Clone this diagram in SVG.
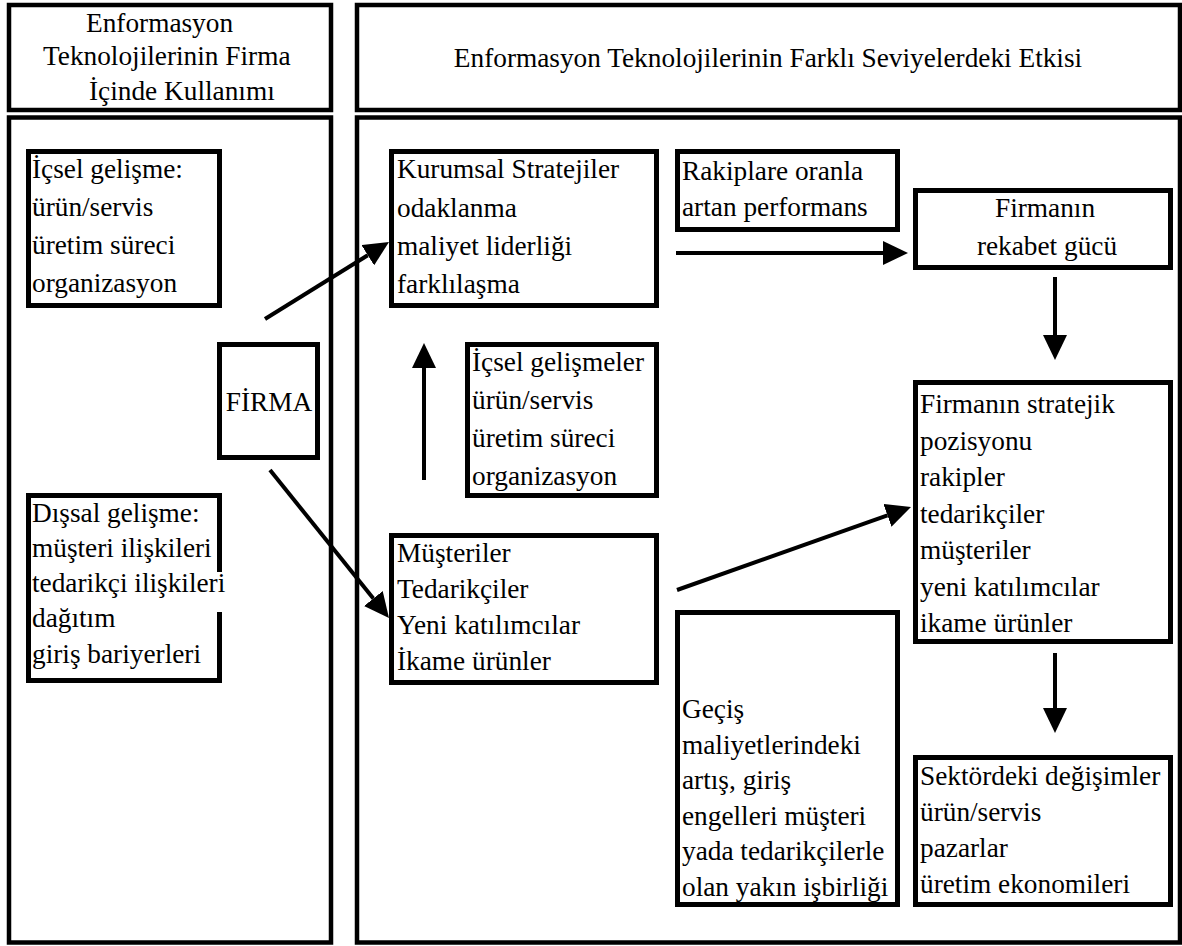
<svg xmlns="http://www.w3.org/2000/svg" width="1182" height="946" viewBox="0 0 1182 946" font-family="'Liberation Serif', 'Times New Roman', Times, serif">
<style>
.col{fill:#fff;stroke:#000;stroke-width:4.5}
.box{fill:#fff;stroke:#000;stroke-width:5}
.edge{fill:none;stroke:#000;stroke-width:5}
text{font-family:'Liberation Serif','Times New Roman',Times,serif;font-size:27.3px;fill:#000}
.c{text-anchor:middle}
.arr{stroke:#000;stroke-width:4;fill:none;marker-end:url(#ah)}
</style>
<defs>
<marker id="ah" viewBox="0 0 25 24" refX="0" refY="12" markerWidth="25" markerHeight="24" markerUnits="userSpaceOnUse" orient="auto">
<path d="M0,0 L25,12 L0,24 z" fill="#000"/>
</marker>
</defs>
<rect width="1182" height="946" fill="#fff"/>

<g id="left-header">
<rect class="col" x="9" y="5" width="322" height="105"/>
<text x="86" y="32">Enformasyon</text>
<text x="43" y="65">Teknolojilerinin Firma</text>
<text x="89" y="100">İçinde Kullanımı</text>
</g>
<g id="left-body"><rect class="col" x="9" y="117.5" width="322" height="825"/></g>
<g id="right-header">
<rect class="col" x="357" y="5" width="823" height="105"/>
<text class="c" x="768" y="67">Enformasyon Teknolojilerinin Farklı Seviyelerdeki Etkisi</text>
</g>
<g id="right-body"><rect class="col" x="357" y="117.5" width="823" height="825"/></g>

<g id="icsel-gelisme">
<rect class="box" x="28.5" y="151.5" width="191" height="154"/>
<text x="32" y="178">İçsel gelişme:</text>
<text x="32" y="216">ürün/servis</text>
<text x="32" y="254">üretim süreci</text>
<text x="32" y="292">organizasyon</text>
</g>
<g id="firma">
<rect class="box" x="219.5" y="344.5" width="98" height="113"/>
<text class="c" x="269" y="411">FİRMA</text>
</g>
<g id="dissal-gelisme">
<path class="edge" d="M219.5,572 V495.5 H28.5 V680.5 H219.5 V612"/>
<text x="32" y="522">Dışsal gelişme:</text>
<text x="32" y="557">müşteri ilişkileri</text>
<text x="32" y="592">tedarikçi ilişkileri</text>
<text x="32" y="627">dağıtım</text>
<text x="32" y="663">giriş bariyerleri</text>
</g>
<g id="kurumsal">
<rect class="box" x="391.5" y="151.5" width="265" height="154"/>
<text x="397" y="178">Kurumsal Stratejiler</text>
<text x="397" y="217">odaklanma</text>
<text x="397" y="255">maliyet liderliği</text>
<text x="397" y="293">farklılaşma</text>
</g>
<g id="rakiplere">
<rect class="box" x="677.5" y="151.5" width="220" height="78"/>
<text x="682" y="180">Rakiplare oranla</text>
<text x="682" y="216">artan performans</text>
</g>
<g id="rekabet">
<rect class="box" x="915.5" y="190.5" width="255" height="77"/>
<text class="c" x="1045" y="217">Firmanın</text>
<text class="c" x="1047" y="255">rekabet gücü</text>
</g>
<g id="icsel-gelismeler">
<rect class="box" x="467.5" y="344.5" width="189" height="151"/>
<text x="472" y="371">İçsel gelişmeler</text>
<text x="472" y="409">ürün/servis</text>
<text x="472" y="447">üretim süreci</text>
<text x="472" y="485">organizasyon</text>
</g>
<g id="stratejik">
<rect class="box" x="915.5" y="382.5" width="255" height="259"/>
<text x="920" y="413">Firmanın stratejik</text>
<text x="920" y="449.5">pozisyonu</text>
<text x="920" y="486">rakipler</text>
<text x="920" y="522.5">tedarikçiler</text>
<text x="920" y="559">müşteriler</text>
<text x="920" y="595.5">yeni katılımcılar</text>
<text x="920" y="632">ikame ürünler</text>
</g>
<g id="musteriler">
<rect class="box" x="391.5" y="535.5" width="265" height="147"/>
<text x="397" y="562">Müşteriler</text>
<text x="397" y="598">Tedarikçiler</text>
<text x="397" y="634">Yeni katılımcılar</text>
<text x="397" y="670">İkame ürünler</text>
</g>
<g id="gecis">
<rect class="box" x="677.5" y="612.5" width="220" height="292"/>
<text x="682" y="718">Geçiş</text>
<text x="682" y="753.5">maliyetlerindeki</text>
<text x="682" y="789">artış, giriş</text>
<text x="682" y="824.5">engelleri müşteri</text>
<text x="682" y="860">yada tedarikçilerle</text>
<text x="682" y="895.5">olan yakın işbirliği</text>
</g>
<g id="sektor">
<rect class="box" x="915.5" y="757.5" width="255" height="147"/>
<text x="920" y="785">Sektördeki değişimler</text>
<text x="920" y="821">ürün/servis</text>
<text x="920" y="857">pazarlar</text>
<text x="920" y="893">üretim ekonomileri</text>
</g>

<g id="connectors">
<line class="arr" x1="265" y1="319" x2="367.76" y2="255.19"/>
<line class="arr" x1="270" y1="470" x2="373.33" y2="598.52"/>
<line class="arr" x1="424" y1="480" x2="424" y2="368"/>
<line class="arr" x1="676" y1="253" x2="883" y2="253"/>
<line class="arr" x1="1055" y1="277" x2="1055" y2="335"/>
<line class="arr" x1="677" y1="590" x2="887.44" y2="515.36"/>
<line class="arr" x1="1055" y1="653" x2="1055" y2="708"/>
</g>
</svg>
